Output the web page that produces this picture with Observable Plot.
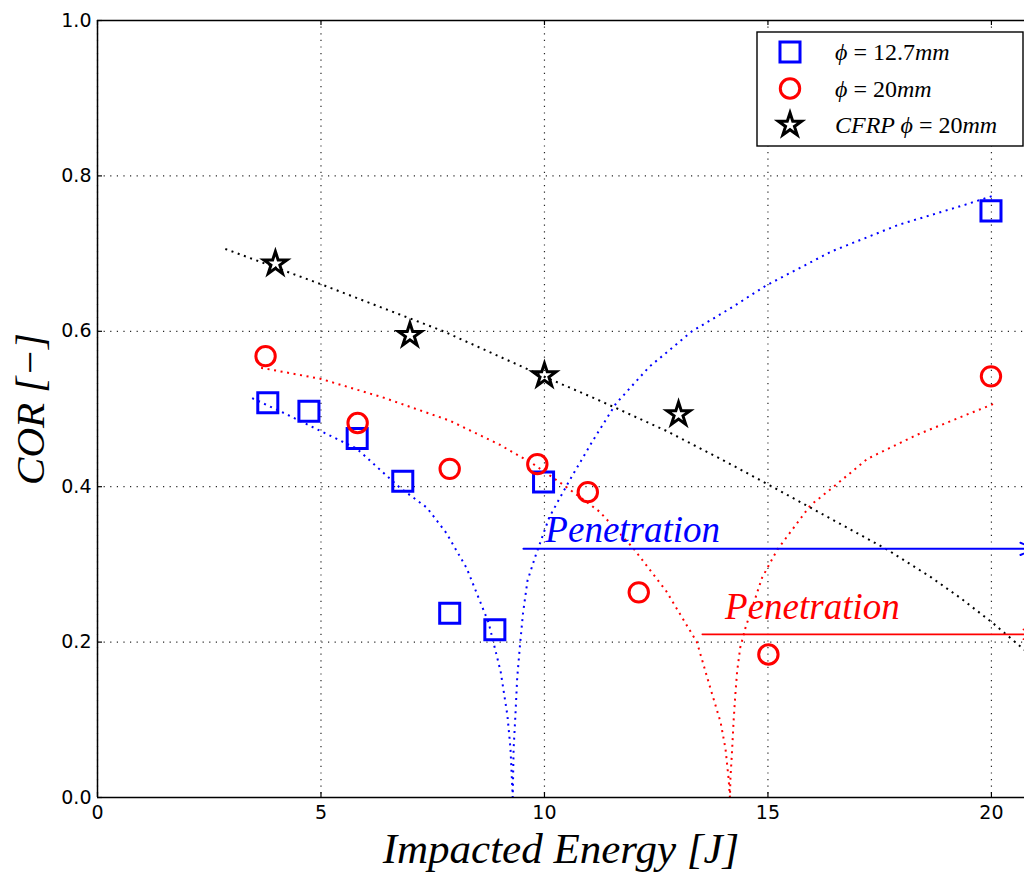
<!DOCTYPE html>
<html><head><meta charset="utf-8">
<script src="https://cdn.jsdelivr.net/npm/d3@7"></script>
<script src="https://cdn.jsdelivr.net/npm/@observablehq/plot@0.6"></script>
<style>
html,body{margin:0;padding:0;background:#fff;overflow:hidden;}
#chart{position:relative;width:1024px;height:873px;}
</style></head><body><div id="chart"></div>
<script>
// ---- tick values
const xTicks = [0, 5, 10, 15, 20];
const yTicks = [0, 0.2, 0.4, 0.6, 0.8, 1.0];

// ---- measured points
const energy127 = [3.81, 4.73, 5.81, 6.83, 7.88, 8.89, 9.98, 19.99];
const cor127    = [0.508, 0.497, 0.462, 0.407, 0.237, 0.216, 0.406, 0.755];
const energy20  = [3.76, 5.82, 7.88, 9.84, 10.97, 12.11, 15.01, 19.99];
const cor20     = [0.568, 0.482, 0.423, 0.429, 0.393, 0.264, 0.184, 0.542];
const energyCFRP = [3.98, 6.99, 10.0, 13.0];
const corCFRP    = [0.687, 0.595, 0.543, 0.493];

// ---- fitted (dotted) curves
const fit127E = [3.46, 4.20, 4.98, 5.80, 6.76, 7.37, 7.81, 8.26, 8.75, 9.02, 9.17, 9.24, 9.29,
                 9.31, 9.35, 9.39, 9.46, 9.52, 9.62, 9.80, 10.11, 10.56, 11.08, 11.60, 12.34, 13.30, 14.20, 14.96, 16.43, 17.92, 19.42, 20.07];
const fit127C = [0.514, 0.494, 0.472, 0.449, 0.399, 0.373, 0.340, 0.295, 0.225, 0.162, 0.106, 0.063, 0.0,
                 0.063, 0.106, 0.154, 0.201, 0.237, 0.279, 0.311, 0.361, 0.408, 0.459, 0.507, 0.554, 0.600, 0.631, 0.659, 0.703, 0.737, 0.763, 0.775];
const fit20E = [3.66, 4.98, 6.38, 7.88, 9.00, 9.73, 10.48, 11.23, 11.97, 12.72, 13.41, 13.71, 13.94, 14.05, 14.12, 14.15,
                14.16, 14.20, 14.23, 14.27, 14.31, 14.38, 14.50, 14.68, 14.87, 15.21, 15.95, 16.47, 17.23, 18.34, 19.46, 20.07];
const fit20C = [0.553, 0.539, 0.515, 0.485, 0.454, 0.430, 0.400, 0.368, 0.322, 0.266, 0.200, 0.141, 0.097, 0.063, 0.024, 0.0,
                0.024, 0.063, 0.097, 0.132, 0.162, 0.193, 0.219, 0.250, 0.283, 0.319, 0.376, 0.400, 0.436, 0.467, 0.493, 0.507];
const fitCFRPE = [2.86, 4.98, 7.74, 9.98, 11.15, 12.72, 14.00, 15.00, 16.43, 17.67, 18.66, 19.30, 20.00, 20.74];
const fitCFRPC = [0.706, 0.661, 0.600, 0.542, 0.513, 0.472, 0.434, 0.403, 0.358, 0.319, 0.283, 0.257, 0.226, 0.190];

// ---- annotations
const penLabels = ["Penetration", "Penetration"];
const penColors = ["#0000ff", "#ff0000"];
const penTextX  = [10.02, 14.04];
const penTextY  = [0.344, 0.245];
const penArrowX1 = [9.53, 13.53];
const penArrowX2 = [20.98, 20.98];
const penArrowY  = [0.320, 0.210];

const legendLabels = [
  [["ϕ", true], [" = 12.7", false], ["mm", true]],
  [["ϕ", true], [" = 20", false], ["mm", true]],
  [["CFRP ϕ", true], [" = 20", false], ["mm", true]]
];
const legendSymbols = ["square", "circle", "star"];
const legendColors  = ["#0000ff", "#ff0000", "#000000"];

const xLabel = "Impacted Energy [J]";
const yLabel = "COR [−]";

// ---- build tables
const pts127 = energy127.map((e, i) => ({e, c: cor127[i]}));
const pts20 = energy20.map((e, i) => ({e, c: cor20[i]}));
const ptsCFRP = energyCFRP.map((e, i) => ({e, c: corCFRP[i]}));
const fit127 = fit127E.map((e, i) => ({e, c: fit127C[i]}));
const fit20 = fit20E.map((e, i) => ({e, c: fit20C[i]}));
const fitCFRP = fitCFRPE.map((e, i) => ({e, c: fitCFRPC[i]}));
const pen = penLabels.map((t, i) => ({t, color: penColors[i], tx: penTextX[i], ty: penTextY[i], x1: penArrowX1[i], x2: penArrowX2[i], y: penArrowY[i]}));

const W = 1024, H = 873, mL = 97, mR = 0, mT = 20, mB = 76;
const plotH = H - mT - mB, plotW = W - mL - mR;
const serif = "'Liberation Serif', 'DejaVu Serif', serif";
const gridStyle = {stroke: "#000", strokeOpacity: 0.85, strokeWidth: 1.2, strokeDasharray: "1.2,5.4"};
const fitStyle = {strokeWidth: 2, strokeDasharray: "2,4.6", strokeLinecap: "butt", clip: true};

const chart = Plot.plot({
  width: W, height: H,
  marginLeft: mL, marginRight: mR, marginTop: mT, marginBottom: mB,
  x: {domain: [0, 20.74]},
  y: {domain: [0, 1]},
  style: {fontFamily: "'DejaVu Sans', sans-serif", fontSize: "19px", background: "white", color: "#000"},
  marks: [
    Plot.gridX(xTicks, gridStyle),
    Plot.gridY(yTicks, gridStyle),
    Plot.axisX(xTicks, {tickSize: 0, tickPadding: 8, label: null, fontSize: 19}),
    Plot.axisY(yTicks, {tickSize: 0, tickPadding: 6, tickFormat: ".1f", label: null, fontSize: 19}),
    Plot.tickX(xTicks, {x: d => d, insetTop: plotH - 5, stroke: "#000", strokeWidth: 1.2}),
    Plot.tickX(xTicks, {x: d => d, insetBottom: plotH - 5, stroke: "#000", strokeWidth: 1.2}),
    Plot.tickY(yTicks, {y: d => d, insetRight: plotW - 5, stroke: "#000", strokeWidth: 1.2}),
    Plot.line(fit127, {x: "e", y: "c", stroke: "#0000ff", ...fitStyle}),
    Plot.line(fit20, {x: "e", y: "c", stroke: "#ff0000", ...fitStyle}),
    Plot.line(fitCFRP, {x: "e", y: "c", stroke: "#000000", ...fitStyle}),
    Plot.arrow(pen.slice(0, 1), {x1: "x1", x2: "x2", y1: "y", y2: "y", stroke: "#0000ff", strokeWidth: 2, headLength: 12, headAngle: 45, clip: true}),
    Plot.arrow(pen.slice(1, 2), {x1: "x1", x2: "x2", y1: "y", y2: "y", stroke: "#ff0000", strokeWidth: 1.6, headLength: 12, headAngle: 45, clip: true}),
    Plot.text(pen.slice(0, 1), {x: "tx", y: "ty", text: "t", fill: "#0000ff", textAnchor: "start", lineAnchor: "middle", fontSize: 37, fontStyle: "italic", fontFamily: serif}),
    Plot.text(pen.slice(1, 2), {x: "tx", y: "ty", text: "t", fill: "#ff0000", textAnchor: "start", lineAnchor: "middle", fontSize: 37, fontStyle: "italic", fontFamily: serif}),
    Plot.dot(pts127, {x: "e", y: "c", symbol: "square", r: 11.3, stroke: "#0000ff", strokeWidth: 3, fill: "none"}),
    Plot.dot(pts20, {x: "e", y: "c", symbol: "circle", r: 9.7, stroke: "#ff0000", strokeWidth: 3, fill: "none"}),
    Plot.dot(ptsCFRP, {x: "e", y: "c", symbol: "star", r: 7.3, stroke: "#000000", strokeWidth: 3, fill: "none"}),
    Plot.ruleY([0, 1], {stroke: "#000", strokeWidth: 1.5}),
    Plot.ruleX([0], {stroke: "#000", strokeWidth: 1.5}),
    Plot.text([xLabel], {text: d => d, frameAnchor: "bottom", textAnchor: "middle", lineAnchor: "middle", dy: 52, fontSize: 43, fontStyle: "italic", fontFamily: serif}),
    Plot.text([yLabel], {text: d => d, frameAnchor: "left", textAnchor: "middle", lineAnchor: "middle", rotate: -90, dx: -67, fontSize: 41, fontStyle: "italic", fontFamily: serif})
  ]
});
document.getElementById("chart").appendChild(chart);

// ---- legend (drawn into the same svg)
const svg = d3.select(chart);
const lg = svg.append("g").attr("transform", "translate(757,32)");
lg.append("rect").attr("width", 266).attr("height", 114).attr("fill", "white").attr("stroke", "#000").attr("stroke-width", 1.4);
const symMap = {square: d3.symbolSquare, circle: d3.symbolCircle, star: d3.symbolStar};
const symR = {square: 11.3, circle: 9.7, star: 7.3};
legendLabels.forEach((parts, i) => {
  const cy = 20 + i * 36.5;
  lg.append("path")
    .attr("transform", `translate(33,${cy})`)
    .attr("d", d3.symbol(symMap[legendSymbols[i]], Math.PI * symR[legendSymbols[i]] ** 2)())
    .attr("fill", "none").attr("stroke", legendColors[i]).attr("stroke-width", 3);
  const t = lg.append("text").attr("x", 78).attr("y", cy + 8).attr("text-anchor", "start")
    .attr("font-family", serif).attr("font-size", 24).attr("fill", "#000");
  parts.forEach(([s, it]) => t.append("tspan").attr("font-style", it ? "italic" : "normal").text(s));
});
</script>
</body></html>
